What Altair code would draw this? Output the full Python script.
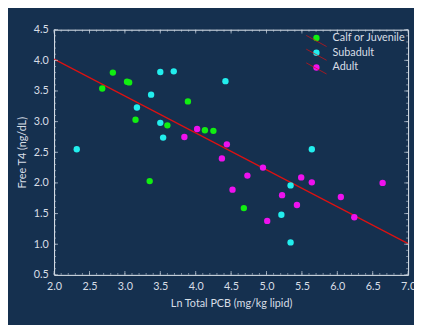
import altair as alt
import pandas as pd

# ---- data ----
labels = ["Calf or Juvenile", "Subadult", "Adult"]
colors = ["#11ee11", "#22eeee", "#ee11ee"]

calf_x = [2.68, 2.83, 3.03, 3.06, 3.15, 3.35, 3.60, 3.89, 4.13, 4.25, 4.68]
calf_y = [3.54, 3.80, 3.65, 3.64, 3.03, 2.03, 2.94, 3.33, 2.86, 2.85, 1.59]
sub_x = [2.32, 3.17, 3.37, 3.50, 3.69, 3.50, 3.54, 4.42, 5.64, 5.34, 5.21, 5.34]
sub_y = [2.55, 3.23, 3.44, 3.81, 3.82, 2.98, 2.74, 3.66, 2.55, 1.96, 1.48, 1.03]
adult_x = [3.84, 4.02, 4.37, 4.44, 4.52, 4.73, 4.95, 5.01, 5.22, 5.43, 5.49, 5.64, 6.05, 6.24, 6.64]
adult_y = [2.75, 2.88, 2.40, 2.63, 1.89, 2.12, 2.25, 1.38, 1.80, 1.64, 2.09, 2.01, 1.77, 1.44, 2.00]

fit_x = [2.0, 7.0]
fit_y = [4.02, 1.01]

x_ticks = [2.0, 2.5, 3.0, 3.5, 4.0, 4.5, 5.0, 5.5, 6.0, 6.5, 7.0]
y_ticks = [0.5, 1.0, 1.5, 2.0, 2.5, 3.0, 3.5, 4.0, 4.5]
x_minor = [round(2.0 + 0.1 * i, 1) for i in range(51)]
y_minor = [round(0.5 + 0.1 * i, 1) for i in range(41)]

# ---- tables ----
pts = pd.DataFrame(
    {
        "x": calf_x + sub_x + adult_x,
        "y": calf_y + sub_y + adult_y,
        "group": [labels[0]] * len(calf_x) + [labels[1]] * len(sub_x) + [labels[2]] * len(adult_x),
    }
)
fit = pd.DataFrame({"x": fit_x, "y": fit_y})
leg_keys = ["k1", "k2", "k3"]
leg_df = pd.DataFrame({"key": leg_keys})
xt = pd.DataFrame({"x": x_ticks})
yt = pd.DataFrame({"y": y_ticks})
xm = pd.DataFrame({"x": x_minor})
ym = pd.DataFrame({"y": y_minor})

BG = "#15304f"
FG = "#d8dee6"
FRAME = "#e8eef4"
FONT = "Lato"
W, H = 361, 250

xscale = alt.Scale(domain=[2.0, 7.0], nice=False, zero=False)
yscale = alt.Scale(domain=[0.5, 4.5], nice=False, zero=False)

xaxis = alt.Axis(
    values=x_ticks, format=".1f", title="Ln Total PCB (mg/kg lipid)",
    grid=False, ticks=False, domain=False, labelFlush=False, labelOverlap=False,
    labelPadding=6, titlePadding=6,
)
yaxis = alt.Axis(
    values=y_ticks, format=".1f", title="Free T4 (ng/dL)",
    grid=False, ticks=False, domain=False, labelFlush=False, labelOverlap=False,
    labelPadding=6, titlePadding=6,
)

XE = alt.X("x:Q", scale=xscale, axis=xaxis)
YE = alt.Y("y:Q", scale=yscale, axis=yaxis)

line = alt.Chart(fit).mark_line(color="#dd1111", strokeWidth=1.2).encode(x=XE, y=YE)

LEG_X, LEG_Y = 262, 3
points = alt.Chart(pts).mark_circle(size=42, opacity=1).encode(
    x=XE,
    y=YE,
    fill=alt.Fill(
        "group:N",
        scale=alt.Scale(domain=labels, range=colors),
        legend=alt.Legend(
            title=None, orient="none", legendX=LEG_X, legendY=LEG_Y, padding=0,
            symbolSize=42, labelOffset=11, rowPadding=3, labelFontSize=11,
            labelFont=FONT, labelColor=FG,
        ),
    ),
)

tick_color = "#c8d2de"
bx_major = alt.Chart(xt).mark_tick(size=4, thickness=1, color=tick_color).encode(x=XE, y=alt.value(H - 2))
tx_major = alt.Chart(xt).mark_tick(size=4, thickness=1, color=tick_color).encode(x=XE, y=alt.value(2))
bx_minor = alt.Chart(xm).mark_tick(size=2, thickness=1, color=tick_color, opacity=0.6).encode(x=XE, y=alt.value(H - 1))
tx_minor = alt.Chart(xm).mark_tick(size=2, thickness=1, color=tick_color, opacity=0.6).encode(x=XE, y=alt.value(1))
ly_major = alt.Chart(yt).mark_tick(size=4, thickness=1, color=tick_color).encode(y=YE, x=alt.value(2))
ry_major = alt.Chart(yt).mark_tick(size=4, thickness=1, color=tick_color).encode(y=YE, x=alt.value(W - 2))
ly_minor = alt.Chart(ym).mark_tick(size=2, thickness=1, color=tick_color, opacity=0.6).encode(y=YE, x=alt.value(1))
ry_minor = alt.Chart(ym).mark_tick(size=2, thickness=1, color=tick_color, opacity=0.6).encode(y=YE, x=alt.value(W - 1))

# red diagonal strokes behind the legend dots (symbols only, no labels)
leg_lines = alt.Chart(leg_df).transform_filter("false").mark_point(
    shape="M -3.2 -1.75 L 3.2 1.75", filled=False, strokeWidth=1, color="#dd1111"
).encode(
    color=alt.Color(
        "key:N",
        scale=alt.Scale(domain=leg_keys, range=["#dd1111"] * 3),
        legend=alt.Legend(
            title=None, orient="none", legendX=LEG_X, legendY=LEG_Y + 3, padding=0,
            symbolSize=42, labelOffset=11, rowPadding=-3, labelFontSize=11,
            labelFont=FONT, labelExpr="''", symbolStrokeWidth=1,
        ),
    )
)

chart = (
    alt.layer(
        line, points,
        bx_minor, tx_minor, ly_minor, ry_minor,
        bx_major, tx_major, ly_major, ry_major,
        leg_lines,
    )
    .resolve_scale(color="independent", fill="independent")
    .properties(
        width=W, height=H,
        background=BG,
        padding={"left": 47, "top": 19, "right": 6, "bottom": 48},
        autosize=alt.AutoSizeParams(type="none"),
    )
    .configure_view(stroke=FRAME, strokeWidth=1)
    .configure_axis(
        labelFont=FONT, labelFontSize=11, labelColor=FG,
        titleFont=FONT, titleFontSize=11, titleFontWeight="normal", titleColor=FG,
    )
)

chart.save("out.html", embed_options={"renderer": "svg", "actions": False})
